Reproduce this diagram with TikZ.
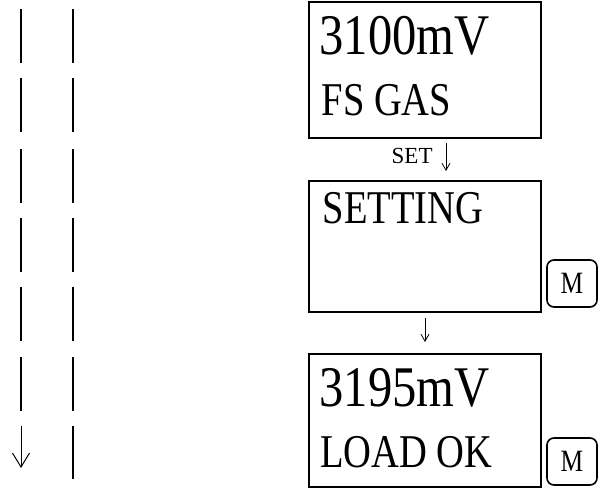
\documentclass[tikz,border=0pt]{standalone}
\usepackage{fontspec}
\setmainfont{Liberation Serif}
\newfontfamily\narrowserif[FakeStretch=0.82]{Liberation Serif}
\newfontfamily\bignarrowserif[FakeStretch=0.845]{Liberation Serif}
\usetikzlibrary{arrows.meta}
\begin{document}
\begin{tikzpicture}[x=1pt,y=-1pt,
  lcd/.style={draw,line width=2pt,inner sep=0pt},
  bigtxt/.style={anchor=base west,inner sep=0pt,font=\bignarrowserif\fontsize{57.5}{60}\selectfont},
  medtxt/.style={anchor=base west,inner sep=0pt,font=\narrowserif\fontsize{47}{50}\selectfont},
  keybox/.style={draw,line width=1.6pt,rounded corners=7pt,minimum width=50pt,minimum height=47pt,inner sep=0pt,font=\narrowserif\fontsize{31}{34}\selectfont},
  smalltxt/.style={inner sep=0pt,font=\fontsize{23}{26}\selectfont},
  bar/.style={line width=1.5pt},
  thinarrow/.style={line width=0.8pt,-{Straight Barb[length=7pt,width=8pt]}}
]
\useasboundingbox (0,0) rectangle (605,491);
% left bars
\foreach \yy in {9,78,149,218,287,357}{
  \draw[bar] (21,\yy) -- ++(0,54);
  \draw[bar] (73,\yy) -- ++(0,54);
}
\coordinate (la) at (21,426);
\coordinate (lb) at (21,468);
\coordinate (ra) at (73,426);
\coordinate (rb) at (73,479);
\draw[line width=1pt,-{Straight Barb[length=14pt,width=17pt]}] (la) -- (lb);
\draw[bar] (ra) -- (rb);
% boxes
\node[lcd,minimum width=232pt,minimum height=136pt] (b1) at (425,70) {};
\node[lcd,minimum width=232pt,minimum height=131pt] (b2) at (425,246.5) {};
\node[lcd,minimum width=232pt,minimum height=133pt] (b3) at (425,420.5) {};
% texts
\node[bigtxt] (t1) at (319.5,54.3) {3100mV};
\node[medtxt] (t2) at (321.5,115) {FS GAS};
\node[medtxt] (t3) at (322.5,223) {SETTING};
\node[bigtxt] (t4) at (319.5,406) {3195mV};
\node[medtxt] (t5) at (320,467) {LOAD OK};
\node[smalltxt,anchor=base west] (s1) at (391.5,163) {SET};
% small arrows
\coordinate (sa1) at (446,143);
\coordinate (sa2) at (446,171);
\draw[thinarrow] (sa1) -- (sa2);
\coordinate (ma1) at (425,318);
\coordinate (ma2) at (425,342);
\draw[thinarrow] (ma1) -- (ma2);
% keys
\node[keybox] (k1) at (572,283.5) {M};
\node[keybox] (k2) at (572,461.5) {M};
\end{tikzpicture}
\end{document}
